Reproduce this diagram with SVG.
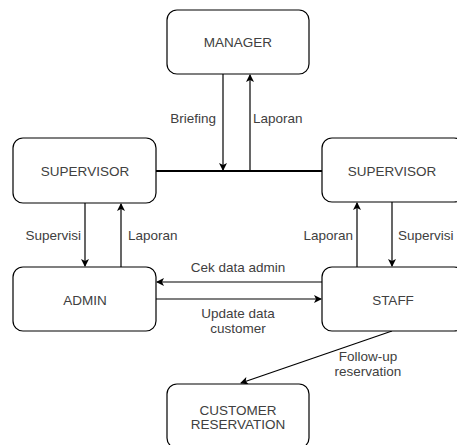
<svg xmlns="http://www.w3.org/2000/svg" width="457" height="445" viewBox="0 0 457 445">
<defs>
<marker id="arr" markerWidth="8" markerHeight="8" refX="7" refY="4" orient="auto" markerUnits="userSpaceOnUse">
<path d="M0,0 L8,4 L0,8 L2,4 Z" fill="#000"/>
</marker>
<style>
.box{fill:#fff;stroke:#000;stroke-width:1.2}
.t{font-family:"Liberation Sans",Arial,sans-serif;font-size:13.5px;fill:#404040;text-anchor:middle}
.l{fill:none;stroke:#000;stroke-width:1.2}
.a{fill:none;stroke:#000;stroke-width:1.2;marker-end:url(#arr)}
</style>
</defs>
<rect width="457" height="445" fill="#fff"/>
<g id="connectors">
<line class="l" x1="156" y1="171" x2="322" y2="171" style="stroke-width:2"/>
<line class="a" x1="223" y1="74" x2="223" y2="170"/>
<line class="a" x1="250" y1="171" x2="250" y2="75"/>
<line class="a" x1="85" y1="203" x2="85" y2="266"/>
<line class="a" x1="121" y1="267" x2="121" y2="204"/>
<line class="a" x1="357" y1="267" x2="357" y2="203"/>
<line class="a" x1="392" y1="202" x2="392" y2="266"/>
<line class="a" x1="322" y1="282" x2="157" y2="282"/>
<line class="a" x1="156" y1="299" x2="321" y2="299"/>
<line class="a" x1="392" y1="331" x2="241" y2="383"/>
<text class="t" x="216" y="123" style="text-anchor:end">Briefing</text>
<text class="t" x="253" y="123" style="text-anchor:start">Laporan</text>
<text class="t" x="81" y="240" style="text-anchor:end">Supervisi</text>
<text class="t" x="128" y="240" style="text-anchor:start">Laporan</text>
<text class="t" x="353" y="240" style="text-anchor:end">Laporan</text>
<text class="t" x="398" y="240" style="text-anchor:start">Supervisi</text>
<text class="t" x="238" y="272">Cek data admin</text>
<text class="t" x="238" y="318">Update data</text>
<text class="t" x="238" y="333">customer</text>
<text class="t" x="368" y="361">Follow-up</text>
<text class="t" x="368" y="376">reservation</text>
</g>
<g id="manager"><rect class="box" x="167" y="10" width="142" height="64" rx="10"/><text class="t" x="238" y="47">MANAGER</text></g>
<g id="supervisor-left"><rect class="box" x="13" y="138" width="143" height="65" rx="10"/><text class="t" x="85" y="176">SUPERVISOR</text></g>
<g id="supervisor-right"><rect class="box" x="322" y="138" width="142" height="64" rx="10"/><text class="t" x="392" y="176">SUPERVISOR</text></g>
<g id="admin"><rect class="box" x="13" y="267" width="143" height="64" rx="10"/><text class="t" x="85" y="305">ADMIN</text></g>
<g id="staff"><rect class="box" x="322" y="267" width="142" height="64" rx="10"/><text class="t" x="393" y="305">STAFF</text></g>
<g id="customer-reservation"><rect class="box" x="167" y="384" width="142" height="64" rx="10"/><text class="t" x="238" y="415">CUSTOMER</text><text class="t" x="238" y="429">RESERVATION</text></g>
</svg>
